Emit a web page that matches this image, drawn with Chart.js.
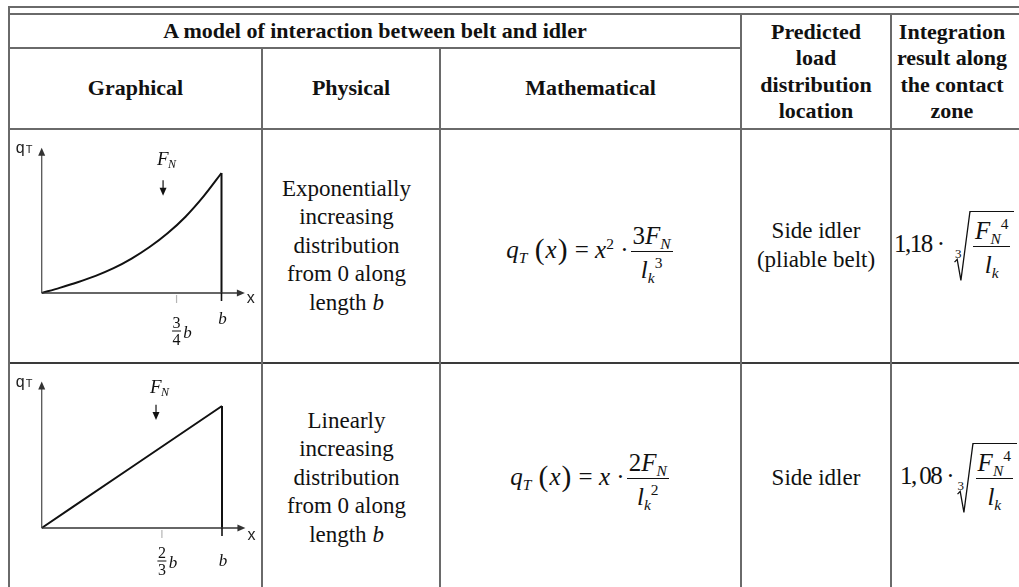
<!DOCTYPE html>
<html>
<head>
  <meta charset="utf-8">
  <title>Belt and idler interaction models</title>
  <script src="https://cdn.jsdelivr.net/npm/chart.js@4.4.0/dist/chart.umd.min.js"></script>
  <style>
    html, body {
      margin: 0;
      padding: 0;
      background: #fff;
    }

    body {
      width: 1019px;
      height: 587px;
      overflow: hidden;
      position: relative;
      font-family: 'Liberation Serif', 'Times New Roman', serif;
      color: #111;
    }

    .hl, .vl {
      position: absolute;
      background: #6a6a6a;
    }
    .hl { height: 2px; }
    .vl { width: 2px; }

    .cell {
      position: absolute;
      display: flex;
      align-items: center;
      justify-content: center;
      text-align: center;
      box-sizing: border-box;
    }
    .cell.left { justify-content: flex-start; }

    .head {
      font-weight: bold;
      font-size: 22px;
      line-height: 26.4px;
    }

    .txt {
      font-size: 23px;
      line-height: 28.6px;
    }

    canvas {
      position: absolute;
    }

    /* formulas */
    .m {
      font-size: 25px;
      white-space: nowrap;
      line-height: 1;
    }
    .i { font-style: italic; }
    .coef { letter-spacing: -1.5px; }
    .m sub, .m sup {
      font-size: 0.62em;
      line-height: 0;
    }
    .m sub { vertical-align: -0.32em; }
    .m sup { vertical-align: 0.62em; }
    .p {
      font-size: 1.18em;
      vertical-align: -0.04em;
      margin: 0 1px;
    }
    .frac {
      display: inline-block;
      vertical-align: middle;
      text-align: center;
      margin: 0 2px;
    }
    .frac > span {
      display: block;
      padding: 0 2px;
    }
    .frac .num {
      border-bottom: 1.2px solid #111;
      padding-bottom: 3px;
    }
    .frac .den {
      padding-top: 5px;
    }
    .rad {
      display: inline-flex;
      vertical-align: middle;
      align-items: stretch;
      margin-left: 9px;
    }
    .chk {
      position: relative;
      width: 17px;
    }
    .chk svg {
      position: absolute;
      left: 0;
      top: 0;
      width: 100%;
      height: 100%;
    }
    .chk .idx {
      position: absolute;
      left: 1px;
      top: 52%;
      font-size: 13px;
      line-height: 1;
    }
    .radicand {
      border-top: 1.2px solid #111;
      padding-top: 6px;
      padding-bottom: 4px;
      padding-right: 2px;
    }
  </style>
</head>
<body>
  <!-- table rules -->
  <div class="hl" style="left:9px; top:6px; width:1012px;"></div>
  <div class="hl" style="left:9px; top:13px; width:1012px;"></div>
  <div class="hl" style="left:9px; top:47px; width:732px;"></div>
  <div class="hl" style="left:9px; top:128px; width:1012px;"></div>
  <div class="hl" style="left:9px; top:362px; width:1012px; background:#3a3a3a;"></div>
  <div class="vl" style="left:8px; top:6px; height:590px;"></div>
  <div class="vl" style="left:261px; top:47px; height:550px;"></div>
  <div class="vl" style="left:439px; top:47px; height:550px;"></div>
  <div class="vl" style="left:740px; top:13px; height:590px;"></div>
  <div class="vl" style="left:890px; top:13px; height:590px;"></div>

  <!-- header -->
  <div class="cell head" style="left:10px; top:15px; width:730px; height:32px;"><div>A model of interaction between belt and idler</div></div>
  <div class="cell head" style="left:10px; top:49px; width:251px; height:79px;"><div>Graphical</div></div>
  <div class="cell head" style="left:263px; top:49px; width:176px; height:79px;"><div>Physical</div></div>
  <div class="cell head" style="left:441px; top:49px; width:299px; height:79px;"><div>Mathematical</div></div>
  <div class="cell head" style="left:742px; top:15px; width:148px; height:113px;"><div>Predicted<br>load<br>distribution<br>location</div></div>
  <div class="cell head" style="left:892px; top:15px; width:120px; height:113px;"><div>Integration<br>result along<br>the contact<br>zone</div></div>

  <!-- row 1 -->
  <canvas id="expChart" width="251" height="232" style="left:10px; top:130px;"></canvas>
  <div class="cell txt" style="left:263px; top:130px; width:176px; height:232px; padding-right:9px;"><div>Exponentially<br>increasing<br>distribution<br>from 0 along<br>length <span class="i">b</span></div></div>
  <div class="cell" style="left:441px; top:130px; width:299px; height:232px;">
    <div class="m" style="padding-top:12px;"><span class="i">q</span><sub class="i">T</sub>&nbsp;<span class="p">(</span><span class="i">x</span><span class="p">)</span> = <span class="i">x</span><sup>2</sup> ·<span class="frac"><span class="num">3<span class="i">F</span><sub class="i">N</sub></span><span class="den"><span class="i">l</span><sub class="i">k</sub><sup>3</sup></span></span></div>
  </div>
  <div class="cell txt" style="left:742px; top:130px; width:148px; height:232px;"><div>Side idler<br>(pliable belt)</div></div>
  <div class="cell left" style="left:892px; top:130px; width:126px; height:232px; padding-left:2px;">
    <div class="m"><span class="coef">1,18</span>&thinsp;·<span class="rad"><span class="chk"><svg viewBox="0 0 16 100" preserveAspectRatio="none"><polyline points="0.5,73 3,69 6.5,99 15,1 16,1" fill="none" stroke="#111" stroke-width="1.3" vector-effect="non-scaling-stroke"/></svg><span class="idx">3</span></span><span class="radicand"><span class="frac"><span class="num"><span class="i">F</span><sub class="i">N</sub><sup>4</sup></span><span class="den"><span class="i">l</span><sub class="i">k</sub></span></span></span></span></div>
  </div>

  <!-- row 2 -->
  <canvas id="linChart" width="251" height="228" style="left:10px; top:364px;"></canvas>
  <div class="cell txt" style="left:263px; top:364px; width:176px; height:228px; padding-right:9px;"><div>Linearly<br>increasing<br>distribution<br>from 0 along<br>length <span class="i">b</span></div></div>
  <div class="cell" style="left:441px; top:364px; width:299px; height:228px;">
    <div class="m" style="padding-top:2px;"><span class="i">q</span><sub class="i">T</sub>&nbsp;<span class="p">(</span><span class="i">x</span><span class="p">)</span> = <span class="i">x</span> ·<span class="frac"><span class="num">2<span class="i">F</span><sub class="i">N</sub></span><span class="den"><span class="i">l</span><sub class="i">k</sub><sup>2</sup></span></span></div>
  </div>
  <div class="cell txt" style="left:742px; top:364px; width:148px; height:228px;"><div>Side idler</div></div>
  <div class="cell left" style="left:892px; top:364px; width:126px; height:228px; padding-left:8px;">
    <div class="m"><span class="coef">1,&thinsp;08</span>&thinsp;·<span class="rad" style="margin-left:2px;"><span class="chk"><svg viewBox="0 0 16 100" preserveAspectRatio="none"><polyline points="0.5,73 3,69 6.5,99 15,1 16,1" fill="none" stroke="#111" stroke-width="1.3" vector-effect="non-scaling-stroke"/></svg><span class="idx">3</span></span><span class="radicand"><span class="frac"><span class="num"><span class="i">F</span><sub class="i">N</sub><sup>4</sup></span><span class="den"><span class="i">l</span><sub class="i">k</sub></span></span></span></span></div>
  </div>

  <script>
    // position along the contact zone, in units of b
    const expPos = [0, 0.1, 0.2, 0.3, 0.4, 0.5, 0.6, 0.7, 0.8, 0.9, 1];
    // load, relative to the peak
    const expLoad = [0, 0.043, 0.09, 0.143, 0.207, 0.287, 0.383, 0.498, 0.636, 0.805, 1];

    const linPos = [0, 0.5, 1];
    const linLoad = [0, 0.5, 1];

    // drop back to zero at x = b
    const edgePos = [1, 1];
    const edgeLoad = [1, 0];

    const expTickValues = [0.75, 1];
    const expTickLabels = ['3/4', 'b'];
    const linTickValues = [2 / 3, 1];
    const linTickLabels = ['2/3', 'b'];

    const INK = '#111';
    const AXIS = '#333';

    function toPoints(xs, ys) {
      return xs.map((v, i) => ({ x: v, y: ys[i] }));
    }

    // axes, arrows, tick labels and the force arrow
    const figurePlugin = {
      id: 'figure',
      afterDatasetsDraw(chart, args, o) {
        const ctx = chart.ctx;
        const X = v => chart.scales.x.getPixelForValue(v);
        const Y = v => chart.scales.y.getPixelForValue(v);
        const x0 = X(0), y0 = Y(0);
        const xe = X(o.xArrow), ye = Y(o.yArrow);

        ctx.save();
        ctx.fillStyle = AXIS;
        ctx.lineWidth = 1.3;

        // y axis
        ctx.strokeStyle = '#555';
        ctx.beginPath();
        ctx.moveTo(x0, y0);
        ctx.lineTo(x0, ye + 6);
        ctx.stroke();
        ctx.beginPath();
        ctx.moveTo(x0, ye);
        ctx.lineTo(x0 - 3.5, ye + 8);
        ctx.lineTo(x0 + 3.5, ye + 8);
        ctx.closePath();
        ctx.fill();

        // x axis
        ctx.strokeStyle = AXIS;
        ctx.beginPath();
        ctx.moveTo(x0, y0);
        ctx.lineTo(xe - 6, y0);
        ctx.stroke();
        ctx.beginPath();
        ctx.moveTo(xe, y0);
        ctx.lineTo(xe - 8, y0 - 3.5);
        ctx.lineTo(xe - 8, y0 + 3.5);
        ctx.closePath();
        ctx.fill();

        // axis names
        ctx.fillStyle = '#222';
        ctx.textBaseline = 'alphabetic';
        ctx.textAlign = 'left';
        ctx.font = '16px "Liberation Sans", Arial, sans-serif';
        ctx.fillText('q', x0 - 26, ye + 5);
        ctx.font = '11px "Liberation Sans", Arial, sans-serif';
        ctx.fillText('T', x0 - 16, ye + 5);
        ctx.font = '16px "Liberation Sans", Arial, sans-serif';
        ctx.textBaseline = 'middle';
        ctx.fillText('x', xe + 2, y0 + o.xNameDy);

        // ticks
        o.tickValues.forEach((v, i) => {
          const tx = X(v);
          const lab = o.tickLabels[i];
          if (lab === 'b') {
            ctx.strokeStyle = INK;
            ctx.lineWidth = 1.6;
            ctx.beginPath();
            ctx.moveTo(tx, y0);
            ctx.lineTo(tx, y0 + 8);
            ctx.stroke();
            ctx.fillStyle = INK;
            ctx.font = 'italic 17px "Liberation Serif", serif';
            ctx.textAlign = 'center';
            ctx.textBaseline = 'middle';
            ctx.fillText('b', tx + 1, y0 + o.bDy);
          } else {
            const parts = lab.split('/');
            const bar = y0 + o.fracDy;
            ctx.strokeStyle = '#b5b5b5';
            ctx.lineWidth = 1.2;
            ctx.beginPath();
            ctx.moveTo(tx, y0 + 2);
            ctx.lineTo(tx, y0 + 10);
            ctx.stroke();
            ctx.fillStyle = INK;
            ctx.font = '16px "Liberation Serif", serif';
            ctx.textAlign = 'center';
            ctx.textBaseline = 'alphabetic';
            ctx.fillText(parts[0], tx, bar - 3);
            ctx.fillText(parts[1], tx, bar + 14);
            ctx.strokeStyle = INK;
            ctx.lineWidth = 1;
            ctx.beginPath();
            ctx.moveTo(tx - 4.5, bar);
            ctx.lineTo(tx + 4.5, bar);
            ctx.stroke();
            ctx.font = 'italic 17px "Liberation Serif", serif';
            ctx.textBaseline = 'middle';
            ctx.fillText('b', tx + 11, bar + 3);
          }
        });

        // resultant force F_N
        const fx = X(o.forceX);
        ctx.fillStyle = INK;
        ctx.textAlign = 'left';
        ctx.textBaseline = 'alphabetic';
        ctx.font = 'italic 19px "Liberation Serif", serif';
        ctx.fillText('F', fx - 6, Y(o.forceLabel));
        ctx.font = 'italic 12px "Liberation Serif", serif';
        ctx.fillText('N', fx + 5, Y(o.forceLabel) + 3);
        const fTop = Y(o.forceTop), fBot = Y(o.forceBottom);
        ctx.strokeStyle = INK;
        ctx.lineWidth = 1.2;
        ctx.beginPath();
        ctx.moveTo(fx, fTop);
        ctx.lineTo(fx, fBot - 5);
        ctx.stroke();
        ctx.beginPath();
        ctx.moveTo(fx, fBot);
        ctx.lineTo(fx - 3.5, fBot - 8);
        ctx.lineTo(fx + 3.5, fBot - 8);
        ctx.closePath();
        ctx.fill();

        ctx.restore();
      }
    };

    function makeChart(id, xs, ys, pad, fig) {
      return new Chart(document.getElementById(id), {
        type: 'line',
        data: {
          datasets: [
            {
              data: toPoints(xs, ys),
              borderColor: INK,
              borderWidth: 2,
              pointRadius: 0,
              cubicInterpolationMode: 'monotone',
              clip: false
            },
            {
              data: toPoints(edgePos, edgeLoad),
              borderColor: INK,
              borderWidth: 2,
              pointRadius: 0,
              tension: 0,
              clip: false
            }
          ]
        },
        options: {
          responsive: false,
          devicePixelRatio: 1,
          animation: false,
          events: [],
          layout: { padding: pad },
          plugins: {
            legend: { display: false },
            tooltip: { enabled: false },
            figure: fig
          },
          scales: {
            x: { type: 'linear', min: 0, max: 1, display: false },
            y: { type: 'linear', min: 0, max: 1, display: false }
          }
        },
        plugins: [figurePlugin]
      });
    }

    makeChart('expChart', expPos, expLoad,
      { left: 31.7, right: 39.5, top: 43, bottom: 69 },
      {
        xArrow: 1.13, yArrow: 1.21, xNameDy: 6,
        tickValues: expTickValues, tickLabels: expTickLabels,
        bDy: 27, fracDy: 38,
        forceX: 0.675, forceLabel: 1.07, forceTop: 0.94, forceBottom: 0.81
      });

    makeChart('linChart', linPos, linLoad,
      { left: 31.7, right: 39, top: 42, bottom: 64 },
      {
        xArrow: 1.13, yArrow: 1.2, xNameDy: 8,
        tickValues: linTickValues, tickLabels: linTickLabels,
        bDy: 34, fracDy: 33,
        forceX: 0.634, forceLabel: 1.11, forceTop: 1.01, forceBottom: 0.885
      });
  </script>
</body>
</html>
